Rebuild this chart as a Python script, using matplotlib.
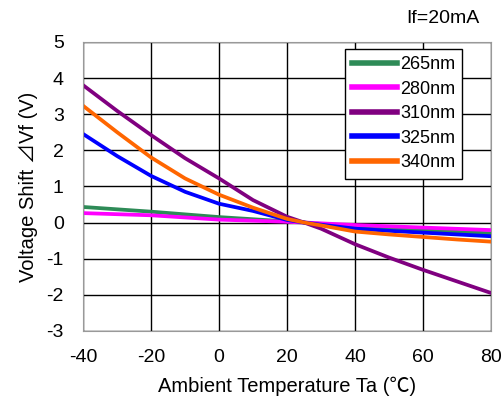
import matplotlib
matplotlib.use('Agg')
from matplotlib import pyplot as plt

plt.rcParams['font.family'] = ['Liberation Sans', 'Noto Sans CJK JP', 'DejaVu Sans']
plt.rcParams['axes.unicode_minus'] = False

# temperatures (deg C) where values were read
temp = [-40, -30, -20, -10, 0, 10, 20, 25, 30, 40, 50, 60, 70, 80]
temp_flat = [-40, -20, 0, 20, 25, 40, 60, 80]

shift_265 = [0.43, 0.30, 0.15, 0.03, 0.0, -0.12, -0.22, -0.30]
shift_280 = [0.26, 0.20, 0.08, 0.02, 0.0, -0.07, -0.14, -0.21]
shift_310 = [3.80, 3.09, 2.42, 1.78, 1.22, 0.62, 0.16, 0.0, -0.17, -0.60, -0.97, -1.31, -1.63, -1.95]
shift_325 = [2.45, 1.84, 1.29, 0.85, 0.52, 0.32, 0.07, 0.0, -0.06, -0.17, -0.23, -0.28, -0.33, -0.38]
shift_340 = [3.23, 2.50, 1.80, 1.22, 0.77, 0.41, 0.10, 0.0, -0.08, -0.25, -0.33, -0.40, -0.47, -0.53]

fig = plt.figure(figsize=(5.04, 4.03), dpi=100)
ax = fig.add_axes([0.165, 0.179, 0.809, 0.717])

ax.plot(temp_flat, shift_265, color='#2E8B57', lw=2.7, label='265nm')
ax.plot(temp_flat, shift_280, color='#FF00FF', lw=2.7, label='280nm')
ax.plot(temp, shift_310, color='#800080', lw=2.7, label='310nm')
ax.plot(temp, shift_325, color='#0000FF', lw=2.7, label='325nm')
ax.plot(temp, shift_340, color='#FF6600', lw=2.7, label='340nm')

ax.set_xlim(-40, 80)
ax.set_ylim(-3, 5)
ax.set_xticks(range(-40, 81, 20))
ax.set_yticks(range(-3, 6))
ax.grid(True, color='black', lw=1)
ax.set_axisbelow(True)
ax.tick_params(length=0, labelsize=14)
ax.tick_params(axis='x', pad=13)
ax.tick_params(axis='y', pad=14)
for s in ax.spines.values():
    s.set_color('#999999')

ax.set_xlabel('Ambient Temperature Ta (℃)', fontsize=14.5, labelpad=8)
ax.set_ylabel('Voltage Shift ⊿Vf (V)', fontsize=14.5, labelpad=6)

leg = ax.legend(loc='upper left', bbox_to_anchor=(0.642, 0.976), fontsize=13,
                frameon=True, fancybox=False, handlelength=2.5, handletextpad=0.15,
                labelspacing=0.42, borderpad=0.4, borderaxespad=0)
leg.get_frame().set_edgecolor('black')
leg.get_frame().set_linewidth(1)
leg.get_frame().set_alpha(1)
for h in leg.get_lines():
    h.set_linewidth(4)

fig.text(0.879, 0.955, 'If=20mA', fontsize=14, ha='center', va='center')

plt.savefig('out.png')
